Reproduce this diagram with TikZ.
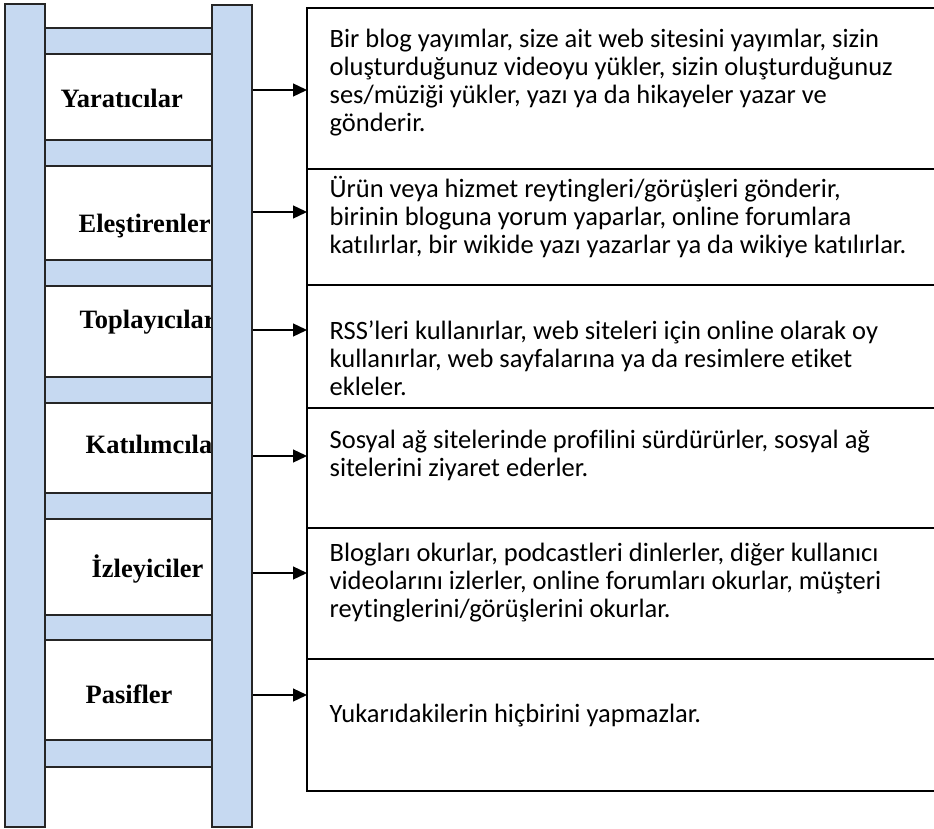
\documentclass[tikz,border=0pt]{standalone}
\usepackage{fontspec}
\setmainfont{Carlito}[Ligatures={NoCommon,NoContextual},Contextuals=NoAlternate]
\newfontfamily\ladderfont{Liberation Serif}
\usetikzlibrary{positioning,arrows.meta}
\definecolor{railblue}{HTML}{C6D9F1}
\newcommand{\firstline}{\rule{0pt}{25pt}}

\begin{document}
\begin{tikzpicture}[
      x=1pt, y=-1pt,
      rail/.style={draw=black!85, fill=railblue, line width=1.3pt},
      box/.style={draw=black, line width=1.5pt, minimum width=640pt,
        inner sep=0pt, outer sep=0pt, anchor=north west},
      desc/.style={font=\fontsize{26.5}{28}\selectfont, align=left,
        inner sep=0pt, anchor=north west},
      role/.style={font=\ladderfont\bfseries\fontsize{26.5}{30}\selectfont,
        inner sep=0pt, anchor=base west},
      line width=1.3pt, >={Triangle[length=14pt,width=13pt]}
      ]

  \useasboundingbox (0,0) rectangle (934,829);
  \clip (0,0) rectangle (934,829);

  % ladder labels (the right rail covers their ends)
  \node[role] (yar) at (60,108) {Yaratıcılar};
  \node[role] (ele) at (78,233) {Eleştirenler};
  \node[role] (top) at (79,328) {Toplayıcılar};
  \node[role] (kat) at (85,453) {Katılımcılar};
  \node[role] (izl) at (91,577) {İzleyiciler};
  \node[role] (pas) at (85,703) {Pasifler};

  % rungs and rails
  \draw[rail] (45,28) rectangle (212,54);
  \draw[rail] (45,140) rectangle (212,166);
  \draw[rail] (45,260) rectangle (212,286);
  \draw[rail] (45,377) rectangle (212,403);
  \draw[rail] (45,493) rectangle (212,519);
  \draw[rail] (45,615) rectangle (212,640);
  \draw[rail] (45,740) rectangle (212,767);
  \draw[rail] (5,4) rectangle (45,827);
  \draw[rail] (212,5) rectangle (252,827);

  % activity boxes
  \node[box, minimum height=161pt] (b1) at (307,8) {};
  \node[box, minimum height=116pt, below = 0pt of b1] (b2) {};
  \node[box, minimum height=123pt, below = 0pt of b2] (b3) {};
  \node[box, minimum height=120pt, below = 0pt of b3] (b4) {};
  \node[box, minimum height=131pt, below = 0pt of b4] (b5) {};
  \node[box, minimum height=132pt, line width=2pt, below = 0pt of b5] (b6) {};

  \node[desc, below right = 14pt and 22pt of b1.north west] (t1)
    {\firstline Bir blog yayımlar, size ait web sitesini yayımlar, sizin\\
     oluşturduğunuz videoyu yükler, sizin oluşturduğunuz\\
     ses/müziği yükler, yazı ya da hikayeler yazar ve\\
     gönderir.};
  \node[desc, below right = 3pt and 22pt of b2.north west] (t2)
    {\firstline Ürün veya hizmet reytingleri/görüşleri gönderir,\\
     birinin bloguna yorum yaparlar, online forumlara\\
     katılırlar, bir wikide yazı yazarlar ya da wikiye katılırlar.};
  \node[desc, below right = 29pt and 22pt of b3.north west] (t3)
    {\firstline RSS’leri kullanırlar, web siteleri için online olarak oy\\
     kullanırlar, web sayfalarına ya da resimlere etiket\\
     ekleler.};
  \node[desc, below right = 15pt and 22pt of b4.north west] (t4)
    {\firstline Sosyal ağ sitelerinde profilini sürdürürler, sosyal ağ\\
     sitelerini ziyaret ederler.};
  \node[desc, below right = 8pt and 22pt of b5.north west] (t5)
    {\firstline Blogları okurlar, podcastleri dinlerler, diğer kullanıcı\\
     videolarını izlerler, online forumları okurlar, müşteri\\
     reytinglerini/görüşlerini okurlar.};
  \node[desc, below right = 38pt and 22pt of b6.north west] (t6)
    {\firstline Yukarıdakilerin hiçbirini yapmazlar.};

  % arrow starts on the right rail
  \coordinate (p1) at (253,90);
  \coordinate (p2) at (253,212);
  \coordinate (p3) at (253,330);
  \coordinate (p4) at (253,456);
  \coordinate (p5) at (253,573);
  \coordinate (p6) at (253,695);

  % Connect the nodes
  \draw[->] (p1) -- (p1 -| b1.west);
  \draw[->] (p2) -- (p2 -| b2.west);
  \draw[->] (p3) -- (p3 -| b3.west);
  \draw[->] (p4) -- (p4 -| b4.west);
  \draw[->] (p5) -- (p5 -| b5.west);
  \draw[->] (p6) -- (p6 -| b6.west);

\end{tikzpicture}
\end{document}
